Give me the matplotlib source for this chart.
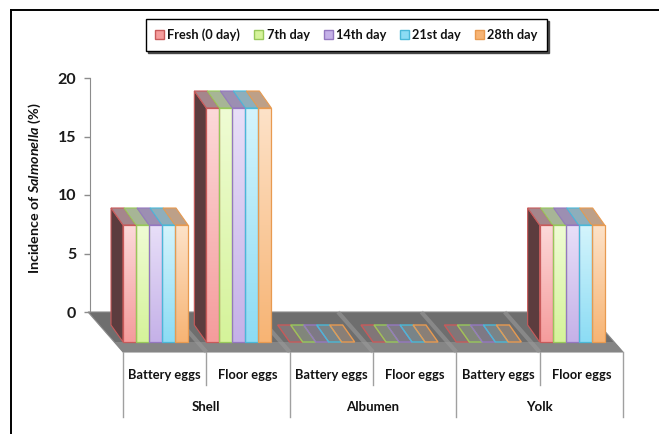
import matplotlib
matplotlib.use('Agg')
import matplotlib.pyplot as plt
import numpy as np
from matplotlib.patches import Polygon, Patch
from matplotlib.lines import Line2D
from matplotlib.colors import to_rgb

plt.rcParams['font.family'] = ['Lato', 'DejaVu Sans']
plt.rcParams['font.weight'] = 'bold'
plt.rcParams['mathtext.fontset'] = 'custom'
plt.rcParams['mathtext.rm'] = 'Lato:bold'
plt.rcParams['mathtext.it'] = 'Lato:italic:bold'
plt.rcParams['mathtext.bf'] = 'Lato:bold'

# ---------------- data ----------------
egg_types = ['Battery eggs', 'Floor eggs', 'Battery eggs', 'Floor eggs', 'Battery eggs', 'Floor eggs']
parts = ['Shell', 'Albumen', 'Yolk']
series = ['Fresh (0 day)', '7th day', '14th day', '21st day', '28th day']
fresh = [10, 20, 0, 0, 0, 10]
day7 = [10, 20, 0, 0, 0, 10]
day14 = [10, 20, 0, 0, 0, 10]
day21 = [10, 20, 0, 0, 0, 10]
day28 = [10, 20, 0, 0, 0, 10]
values = [fresh, day7, day14, day21, day28]
yticks = [0, 5, 10, 15, 20]

# ---------------- styling ----------------
front_bottom = ['#f59c9c', '#d5f39a', '#c5b1e8', '#8cdcf4', '#f7b474']
front_top = ['#fcd9d9', '#effcd4', '#e8dff8', '#d4f4fc', '#fde2c8']
edge = ['#c85a5a', '#98c85a', '#9478c0', '#4ab8d8', '#e89a50']
top_face = ['#a5868c', '#a7b596', '#9c8fb2', '#8eaebb', '#bda088']
side_col = '#5c3c3e'

W, H = 659, 434
PX_X = 83.33   # pixels per category
PX_Y = 11.7    # pixels per value unit
X0 = 123       # pixel x of first category edge
Y0 = 312       # pixel y of value 0 on back wall

fig = plt.figure(figsize=(W / 100, H / 100), dpi=100)
ax = fig.add_axes([0, 0, 1, 1])
ax.set_facecolor('white')

# geometry in data units
base = (Y0 - 342) / PX_Y                 # bar front baseline
floor_front = (Y0 - 352) / PX_Y          # floor front edge
floor_dx, floor_dy = -35 / PX_X, 40 / PX_Y
bar_dx, bar_dy = -12 / PX_X, 17 / PX_Y
sub_w = 13 / PX_X
n_cat = len(egg_types)

# floor
floor = Polygon([(0, floor_front), (n_cat, floor_front),
                 (n_cat + floor_dx, floor_front + floor_dy), (floor_dx, floor_front + floor_dy)],
                closed=True, facecolor='#6e6e6e', edgecolor='#8a8a8a', lw=0.8, zorder=1)
ax.add_patch(floor)
band = Polygon([(0, floor_front), (n_cat, floor_front),
                (n_cat + floor_dx * 0.25, floor_front + floor_dy * 0.25),
                (floor_dx * 0.25, floor_front + floor_dy * 0.25)],
               closed=True, facecolor='#858585', edgecolor='none', zorder=1.1)
ax.add_patch(band)
for k in range(1, n_cat):
    ax.plot([k, k + floor_dx], [floor_front, floor_front + floor_dy],
            color='#9a9a9a', lw=3, alpha=0.6, zorder=1.2, solid_capstyle='butt')

# bars
z = 2
for i in range(n_cat):
    vals = [values[s][i] for s in range(len(series))]
    x_start = i
    if max(vals) <= 0:
        for s in range(len(series)):
            x = x_start + s * sub_w
            p = Polygon([(x, base), (x + sub_w, base), (x + sub_w + bar_dx, base + bar_dy),
                         (x + bar_dx, base + bar_dy)], closed=True,
                        facecolor=to_rgb(top_face[s]) + (0.35,), edgecolor=edge[s], lw=1.0, zorder=z)
            ax.add_patch(p)
        continue
    v0 = vals[0]
    # left side face
    side = Polygon([(x_start, base), (x_start, base + v0), (x_start + bar_dx, base + v0 + bar_dy),
                    (x_start + bar_dx, base + bar_dy)], closed=True,
                   facecolor=side_col, edgecolor=edge[0], lw=0.8, zorder=z)
    ax.add_patch(side)
    for s, v in enumerate(vals):
        x = x_start + s * sub_w
        top = Polygon([(x, base + v), (x + sub_w, base + v), (x + sub_w + bar_dx, base + v + bar_dy),
                       (x + bar_dx, base + v + bar_dy)], closed=True,
                      facecolor=top_face[s], edgecolor=edge[s], lw=0.8, zorder=z + 0.1)
        ax.add_patch(top)
    for s, v in enumerate(vals):
        x = x_start + s * sub_w
        bars = ax.bar(x, v, width=sub_w, bottom=base, align='edge',
                      color=front_bottom[s], edgecolor='none', zorder=z + 0.2)
        c0 = np.array(to_rgb(front_bottom[s]))
        c1 = np.array(to_rgb(front_top[s]))
        t = np.linspace(0, 1, 64)[:, None, None]
        grad = c0[None, None, :] * (1 - t) + c1[None, None, :] * t
        im = ax.imshow(grad, extent=[x, x + sub_w, base, base + v], origin='lower',
                       aspect='auto', interpolation='bilinear', zorder=z + 0.3)
        im.set_clip_path(bars.patches[0])
        ax.bar(x, v, width=sub_w, bottom=base, align='edge', fill=False,
               edgecolor=edge[s], lw=0.9, zorder=z + 0.4)
    z += 1

# category table
row_top = floor_front
row1_bot = (Y0 - 385) / PX_Y
row2_bot = (Y0 - 417) / PX_Y
for k in range(n_cat + 1):
    yb = row2_bot if k % 2 == 0 else row1_bot
    ax.plot([k, k], [row_top, yb], color='#a0a0a0', lw=1, zorder=1)
for i, lab in enumerate(egg_types):
    ax.text(i + 0.5, (Y0 - 375) / PX_Y, lab, ha='center', va='center', fontsize=9.3,
            fontweight='bold', color='#111111')
for j, lab in enumerate(parts):
    ax.text(2 * j + 1, (Y0 - 407) / PX_Y, lab, ha='center', va='center', fontsize=9.5,
            fontweight='bold', color='#111111')

# axis
ax.set_xlim(-X0 / PX_X, (W - X0) / PX_X)
ax.set_ylim((Y0 - H) / PX_Y, Y0 / PX_Y)
for sp in ['top', 'right', 'bottom']:
    ax.spines[sp].set_visible(False)
ax.spines['left'].set_position(('data', (90 - X0) / PX_X))
ax.spines['left'].set_bounds(0, 20)
ax.spines['left'].set_color('#8c8c8c')
ax.spines['left'].set_zorder(0.5)
ax.xaxis.set_visible(False)
ax.set_yticks(yticks)
ax.set_yticklabels([str(t) for t in yticks])
ax.tick_params(axis='y', length=4, width=1, color='#8c8c8c', pad=6, labelsize=11.5,
               labelcolor='#1a1a1a')
ax.text(35 / W, 1 - 188 / H, r'Incidence of $\mathit{Salmonella}$ (%)', rotation=90,
        ha='center', va='center', fontsize=10.3, fontweight='bold', color='#111111',
        transform=ax.transAxes)

# legend
handles = [Patch(facecolor=front_bottom[s], edgecolor=edge[s], lw=1.0) for s in range(len(series))]
leg = fig.legend(handles, series, loc='center', bbox_to_anchor=(346.5 / W, 1 - 35 / H),
                 ncol=5, fontsize=9.2, frameon=True, fancybox=False,
                 handlelength=0.7, handleheight=0.7, handletextpad=0.25, columnspacing=1.1,
                 borderpad=0.75, shadow={'ox': 1.5, 'oy': -1.5, 'color': '0.25', 'alpha': 0.9})
leg.get_frame().set_edgecolor('black')
leg.get_frame().set_linewidth(1.0)
for t in leg.get_texts():
    t.set_fontweight('bold')
    t.set_color('#111111')

# outer frame lines
fig.add_artist(Line2D([11 / W, 11 / W], [0, 1 - 10 / H], color='black', lw=1.4,
                      transform=fig.transFigure))
fig.add_artist(Line2D([11 / W, 1], [1 - 10 / H, 1 - 10 / H], color='black', lw=1.4,
                      transform=fig.transFigure))

fig.savefig('out.png', dpi=100)
